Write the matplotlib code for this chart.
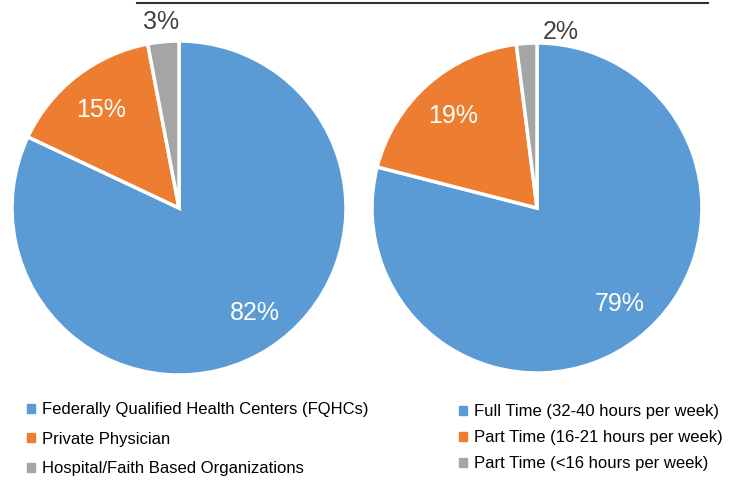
import matplotlib
matplotlib.use("Agg")
import matplotlib.pyplot as plt
from matplotlib.patches import Patch

plt.rcParams['font.family'] = ['Liberation Sans', 'DejaVu Sans']

# Data
site_labels = ["Federally Qualified Health Centers (FQHCs)", "Private Physician",
               "Hospital/Faith Based Organizations"]
site_values = [82, 15, 3]

hours_labels = ["Full Time (32-40 hours per week)", "Part Time (16-21 hours per week)",
                "Part Time (<16 hours per week)"]
hours_values = [79, 19, 2]

colors = ["#5B9BD5", "#ED7D31", "#A5A5A5"]

W, H = 743, 480
fig = plt.figure(figsize=(W / 100, H / 100), dpi=100)


def pie_axes(cx, cy, r):
    # cx, cy in pixels from top-left
    return fig.add_axes([(cx - r) / W, (H - cy - r) / H, 2 * r / W, 2 * r / H])


def draw_pie(ax, values, big_pos, small_pos):
    wedges, texts, autotexts = ax.pie(
        values, colors=colors, startangle=90, counterclock=False,
        autopct=lambda p: f"{p:.0f}%", pctdistance=0.765,
        wedgeprops=dict(edgecolor="white", linewidth=2.5),
        textprops=dict(color="white", fontsize=18, va="center_baseline"))
    # label placement nudged like Excel's best fit
    autotexts[0].set_position(big_pos)
    autotexts[-1].set_color("#404040")
    autotexts[-1].set_position(small_pos)
    ax.set_xlim(-1, 1)
    ax.set_ylim(-1, 1)
    ax.set_aspect("equal")
    ax.axis("off")
    return wedges


ax1 = pie_axes(179, 208, 167)
draw_pie(ax1, site_values, (0.455, -0.611), (-0.108, 1.13))

ax2 = pie_axes(537, 208, 165)
draw_pie(ax2, hours_values, (0.503, -0.567), (0.142, 1.08))

# top rule
fig.add_artist(plt.Line2D([137 / W, 708 / W], [1 - 2.5 / H, 1 - 2.5 / H],
                          color="#303030", linewidth=1.5))

# legends
handles1 = [Patch(color=c) for c in colors]
fig.legend(handles1, site_labels, loc="upper left",
           bbox_to_anchor=(27 / W, 1 - 402 / H), frameon=False,
           fontsize=12, handlelength=0.45, handleheight=0.45,
           handletextpad=0.45, labelspacing=0.88, borderpad=0, borderaxespad=0)
fig.legend(handles1, hours_labels, loc="upper left",
           bbox_to_anchor=(459 / W, 1 - 404 / H), frameon=False,
           fontsize=12, handlelength=0.45, handleheight=0.45,
           handletextpad=0.45, labelspacing=0.67, borderpad=0, borderaxespad=0)

fig.savefig("out.png", dpi=100)
